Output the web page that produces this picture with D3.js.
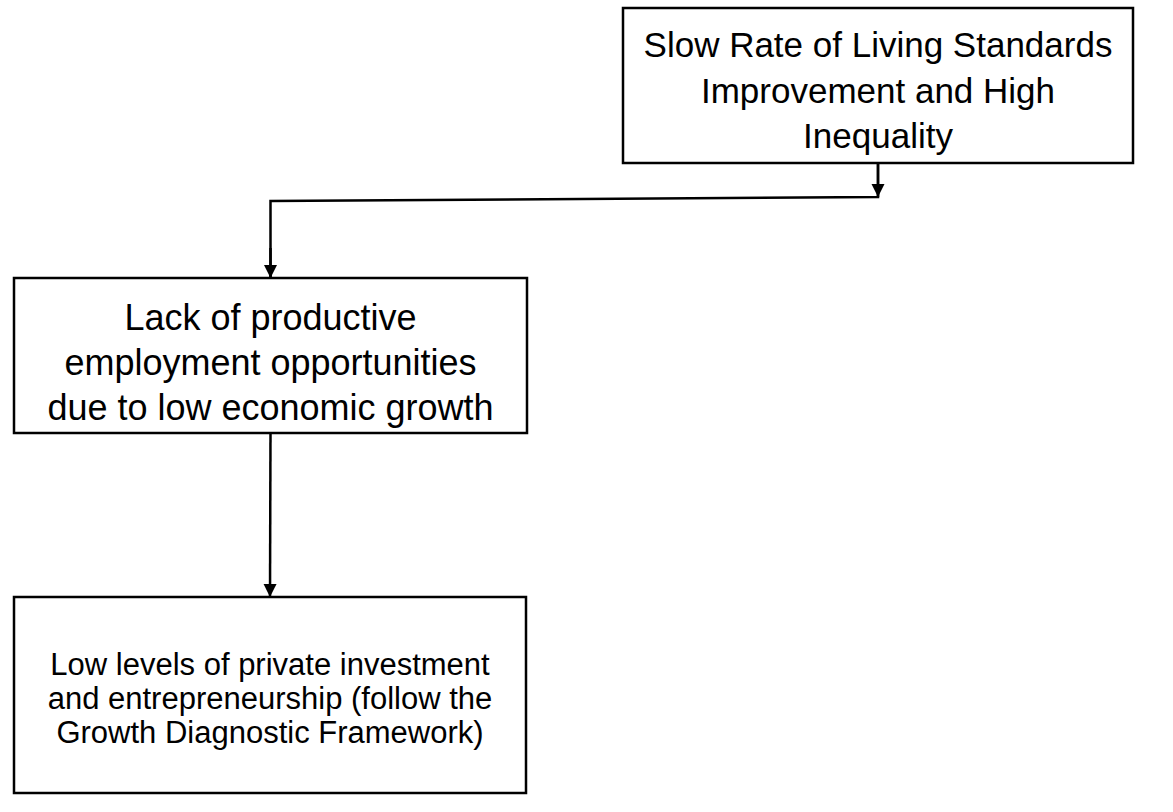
<!DOCTYPE html>
<html>
<head>
<meta charset="utf-8">
<script src="https://cdn.jsdelivr.net/npm/d3@7"></script>
<style>
  body { margin: 0; background: #fff; }
  text { font-family: "Liberation Sans", Arial, sans-serif; fill: #000; }
</style>
</head>
<body>
<div id="main"></div>
<script>
// ---------------- diagram content -----------------//

let boxIds = ['outcome', 'cause', 'root'];

let outcomeLines = ['Slow Rate of Living Standards', 'Improvement and High', 'Inequality'];
let causeLines = ['Lack of productive', 'employment opportunities', 'due to low economic growth'];
let rootLines = ['Low levels of private investment', 'and entrepreneurship (follow the', 'Growth Diagnostic Framework)'];

// which box points to which
let links = [
  {from: 'outcome', to: 'cause'},
  {from: 'cause', to: 'root'}
];

// ---------------- layout -----------------//

let width = 1173;
let height = 812;

let svg = d3.select("#main")
  .append("svg")
  .attr("width", width)
  .attr("height", height)

svg.append("defs").append("marker")
  .attr("id", "head")
  .attr("viewBox", "0 0 10 10")
  .attr("refX", 10)
  .attr("refY", 5)
  .attr("markerWidth", 13)
  .attr("markerHeight", 15)
  .attr("markerUnits", "userSpaceOnUse")
  .attr("orient", "auto")
  .append("path")
  .attr("d", "M0,0L10,5L0,10Z")
  .attr("fill", "#000");

let boxes = {
  outcome: {x: 623, y: 8, w: 510, h: 155, lines: outcomeLines, size: 35, lead: 45.5, first: 49},
  cause: {x: 14, y: 278, w: 513, h: 155, lines: causeLines, size: 36, lead: 45, first: 52},
  root: {x: 14, y: 597, w: 512, h: 196, lines: rootLines, size: 31, lead: 34, first: 78}
};

let groups = svg.selectAll(".box")
  .data(boxIds)
  .join("g")
  .attr("class", "box")
  .attr("transform", d => `translate(${boxes[d].x}, ${boxes[d].y})`);

groups.append("rect")
  .attr("width", d => boxes[d].w)
  .attr("height", d => boxes[d].h)
  .attr("fill", "#fff")
  .attr("stroke", "#000")
  .attr("stroke-width", 2.5);

groups.append("text")
  .attr("text-anchor", "middle")
  .style("font-size", d => boxes[d].size + "px")
  .each(function(d) {
    let b = boxes[d];
    d3.select(this).selectAll("tspan")
      .data(b.lines)
      .join("tspan")
      .attr("x", b.w / 2)
      .attr("y", (l, i) => b.first + i * b.lead)
      .text(l => l);
  });

// connectors: down from source, across, down into target
function connector(l) {
  let s = boxes[l.from], t = boxes[l.to];
  let sx = s.x + s.w / 2;
  let tx = t.x + t.w / 2;
  let sy = s.y + s.h;
  let ty = t.y;
  let path = d3.path();
  if (Math.abs(sx - tx) < 1) {
    path.moveTo(sx, sy);
    path.lineTo(tx, ty);
  } else {
    let midY = sy + 34;
    path.moveTo(sx, sy);
    path.lineTo(sx, midY);
    path.lineTo(tx, midY + 4);
    path.lineTo(tx, ty);
  }
  return path.toString();
}

svg.selectAll(".link")
  .data(links)
  .join("path")
  .attr("class", "link")
  .attr("d", connector)
  .attr("fill", "none")
  .attr("stroke", "#000")
  .attr("stroke-width", 2.5)
  .attr("marker-end", l => l.from === 'outcome' ? null : "url(#head)");

// the first connector also has a head where it meets the elbow
let first = links[0];
let fs = boxes[first.from];
svg.append("line")
  .attr("x1", fs.x + fs.w / 2)
  .attr("y1", fs.y + fs.h)
  .attr("x2", fs.x + fs.w / 2)
  .attr("y2", fs.y + fs.h + 34)
  .attr("stroke", "#000")
  .attr("stroke-width", 2.5)
  .attr("marker-end", "url(#head)");

// head on the final leg into the cause box
let ct = boxes[first.to];
svg.append("line")
  .attr("x1", ct.x + ct.w / 2)
  .attr("y1", ct.y - 30)
  .attr("x2", ct.x + ct.w / 2)
  .attr("y2", ct.y)
  .attr("stroke", "#000")
  .attr("stroke-width", 2.5)
  .attr("marker-end", "url(#head)");
</script>
</body>
</html>
